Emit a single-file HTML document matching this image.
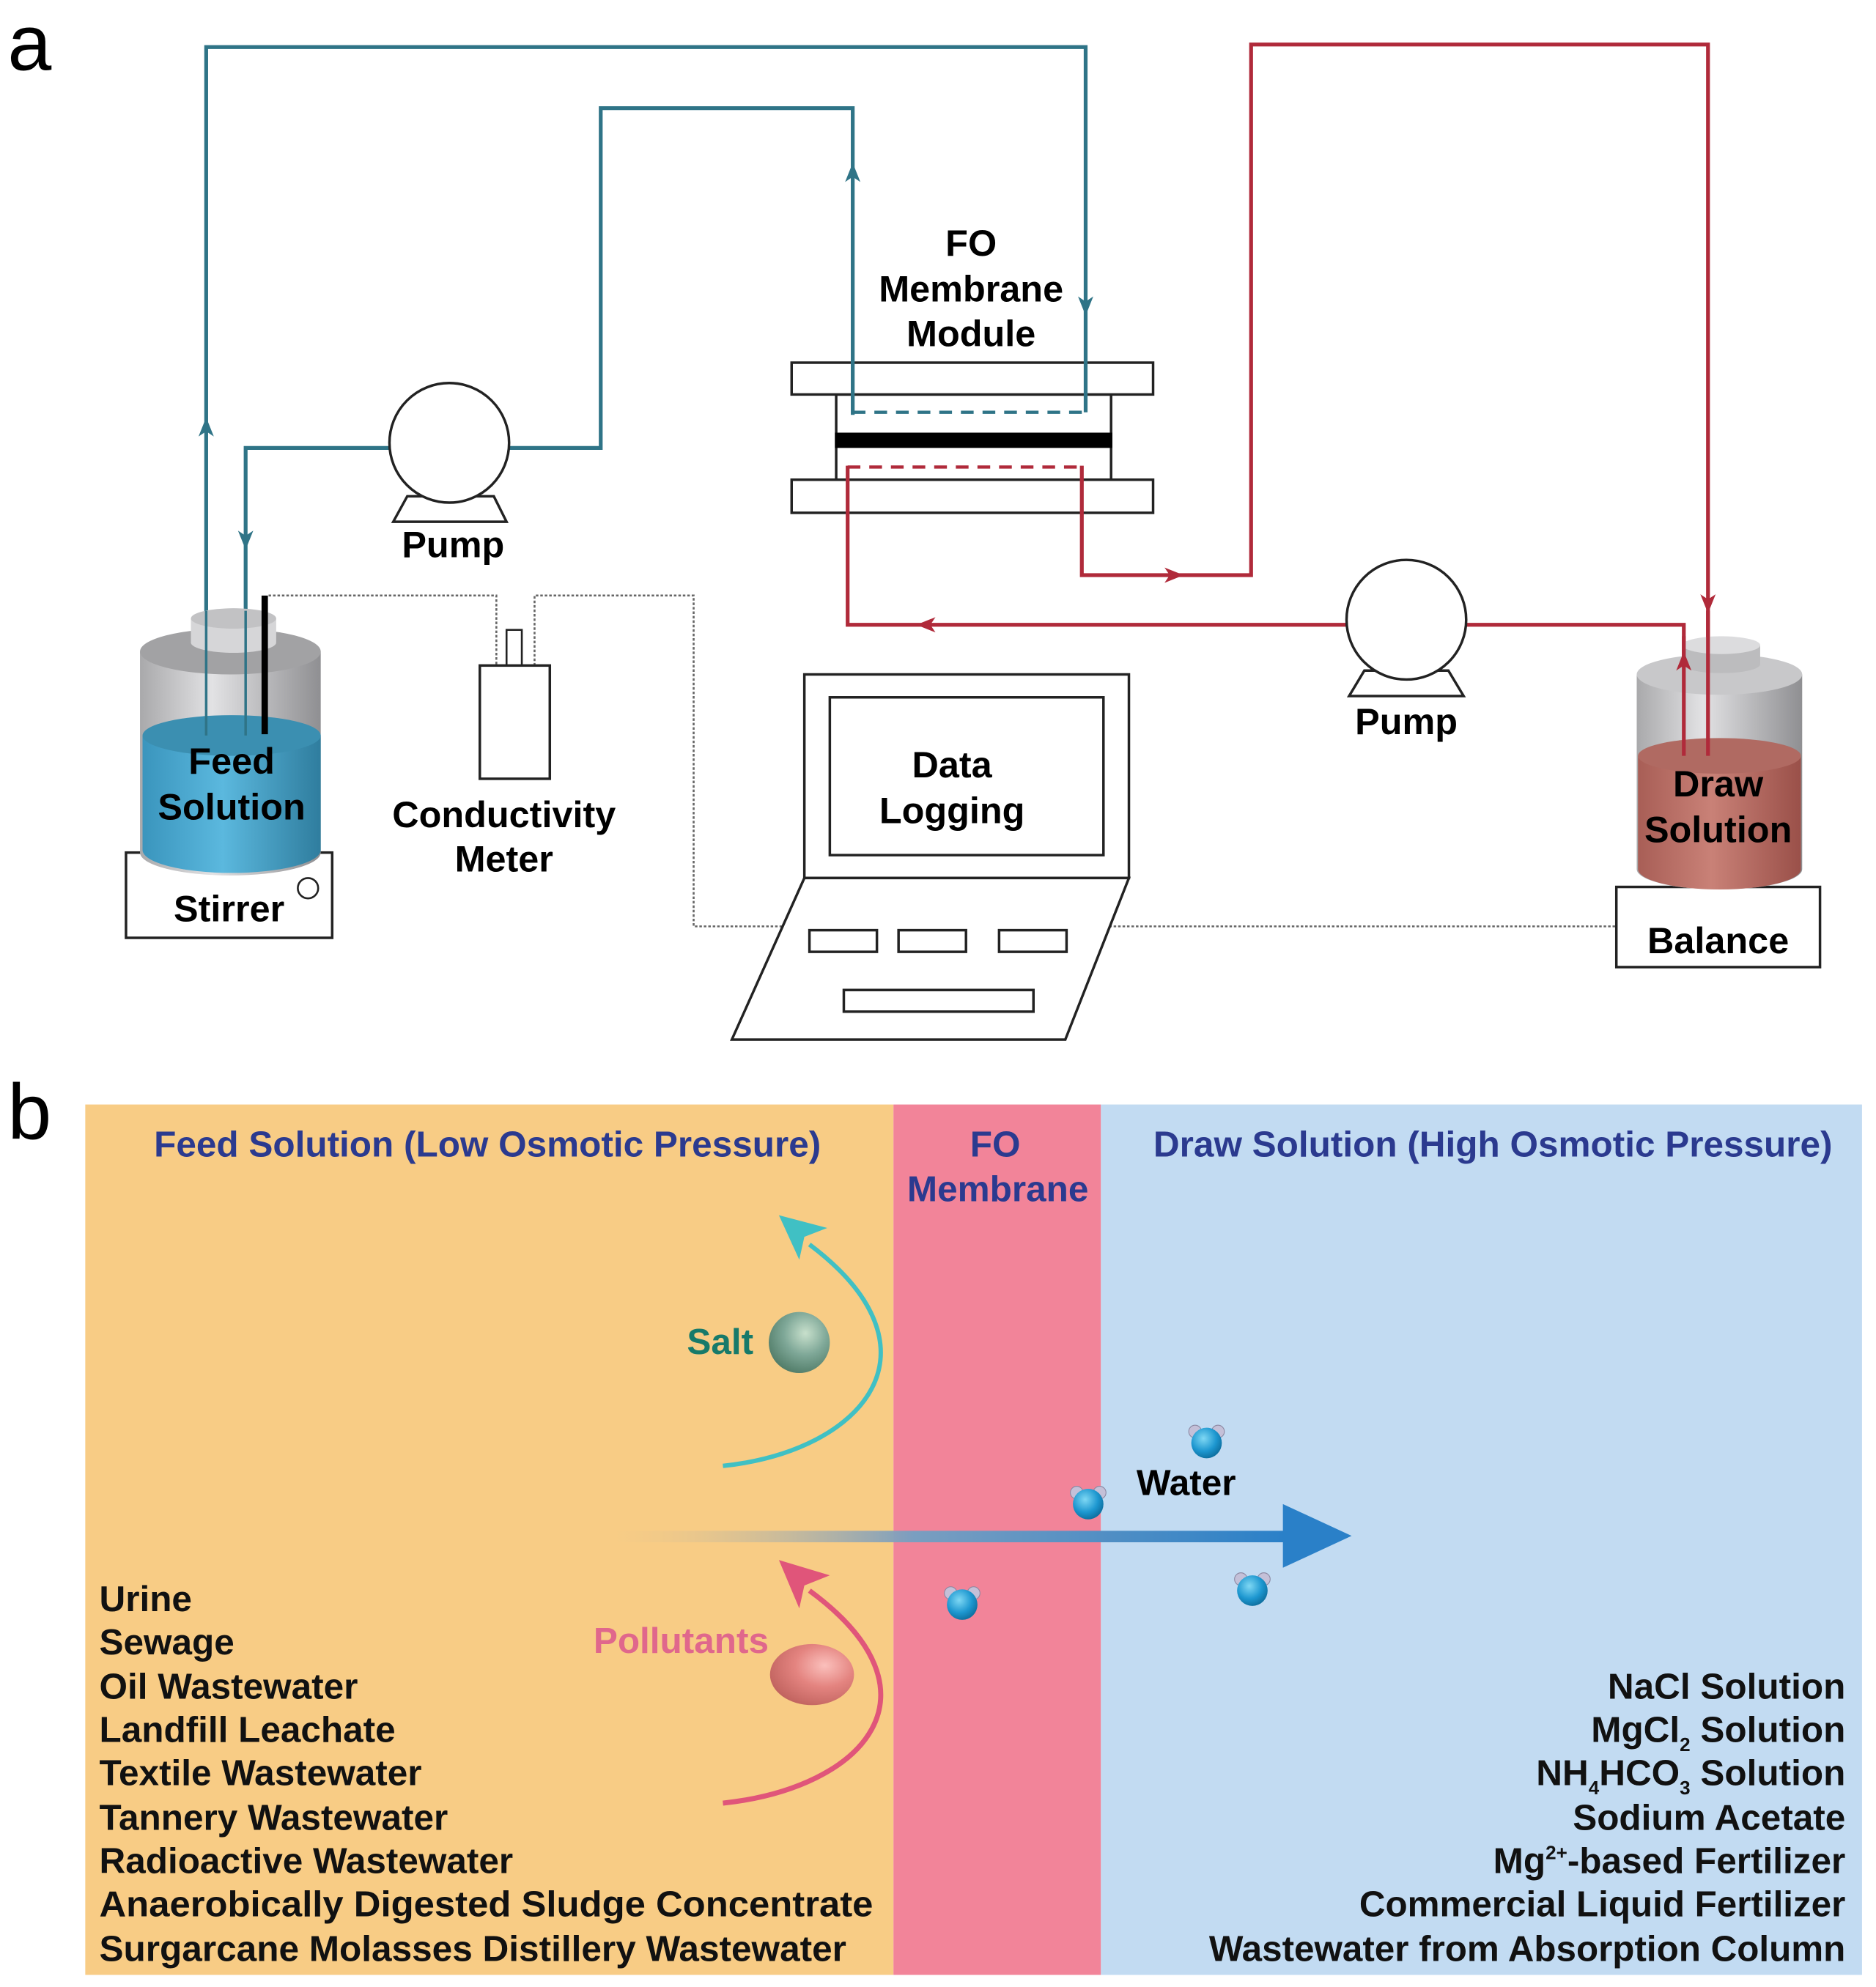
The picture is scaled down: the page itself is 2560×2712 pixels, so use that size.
<!DOCTYPE html>
<html><head><meta charset="utf-8"><style>
html,body{margin:0;padding:0;background:#fff}
svg{display:block}
text{font-family:"Liberation Sans",Arial,sans-serif;font-weight:bold}
</style></head><body>
<svg width="2560" height="2712" viewBox="0 0 1474 1561.5" preserveAspectRatio="none" xmlns="http://www.w3.org/2000/svg">
<defs>
<linearGradient id="feedL" x1="0" x2="1"><stop offset="0" stop-color="#3a95bd"/><stop offset="0.45" stop-color="#5bb8de"/><stop offset="1" stop-color="#2f7d9e"/></linearGradient>
<linearGradient id="glass" x1="0" x2="1"><stop offset="0" stop-color="#a9a9ab"/><stop offset="0.4" stop-color="#e2e2e4"/><stop offset="1" stop-color="#8f8f92"/></linearGradient>
<linearGradient id="drawL" x1="0" x2="1"><stop offset="0" stop-color="#a85e56"/><stop offset="0.45" stop-color="#c98177"/><stop offset="1" stop-color="#9a5049"/></linearGradient>
<linearGradient id="wArrow" x1="480" x2="1010" gradientUnits="userSpaceOnUse"><stop offset="0" stop-color="#f8cc85" stop-opacity="0.2"/><stop offset="0.45" stop-color="#7a9ec0"/><stop offset="1" stop-color="#2a80c8"/></linearGradient>
<radialGradient id="salt" cx="0.6" cy="0.35" r="0.7"><stop offset="0" stop-color="#c8e0cc"/><stop offset="0.5" stop-color="#7fa898"/><stop offset="1" stop-color="#4f7a66"/></radialGradient>
<radialGradient id="poll" cx="0.65" cy="0.35" r="0.7"><stop offset="0" stop-color="#fbc0bc"/><stop offset="0.5" stop-color="#e48480"/><stop offset="1" stop-color="#c26460"/></radialGradient>
<radialGradient id="wat" cx="0.4" cy="0.35" r="0.7"><stop offset="0" stop-color="#7fd8f4"/><stop offset="0.6" stop-color="#1d97d0"/><stop offset="1" stop-color="#0c6b9a"/></radialGradient>
<g id="mol"><circle cx="-9" cy="-9" r="5" fill="#c4c0d8" stroke="#8a86a0" stroke-width="0.6"/><circle cx="9" cy="-9" r="5" fill="#c4c0d8" stroke="#8a86a0" stroke-width="0.6"/><circle cx="0" cy="0" r="12" fill="url(#wat)"/></g>
</defs>

<!-- Part a -->
<text x="6" y="55" font-size="62" style="font-weight:normal">a</text>

<!-- membrane module (drawn first so pipes go over) -->
<g fill="#fff" stroke="#222" stroke-width="2">
<rect x="657" y="310" width="216" height="67"/>
<rect x="622" y="285" width="284" height="25"/>
<rect x="622" y="377" width="284" height="26"/>
</g>
<rect x="656" y="340" width="218" height="12" fill="#000"/>

<!-- teal pipes -->
<g fill="none" stroke="#2f7487" stroke-width="3">
<polyline points="162,565 162,37 853,37 853,324"/>
<polyline points="193,565 193,352 306,352"/>
<polyline points="399,352 472,352 472,85 670,85 670,326"/>
<line x1="670" y1="324" x2="853" y2="324" stroke-dasharray="10,7" stroke-width="2.5"/>
</g>
<g fill="#2f7487">
<path d="M162,328 l-6,15 l6,-4 l6,4z"/>
<path d="M670,128 l-6,15 l6,-4 l6,4z"/>
<path d="M853,248 l-6,-15 l6,4 l6,-4z"/>
<path d="M193,432 l-6,-15 l6,4 l6,-4z"/>
</g>

<!-- red pipes -->
<g fill="none" stroke="#b02a3a" stroke-width="3">
<polyline points="850,366 850,452 983,452 983,35 1342,35 1342,590"/>
<polyline points="666,366 666,491 1059,491"/>
<polyline points="1151,491 1323,491 1323,590"/>
<line x1="666" y1="367" x2="850" y2="367" stroke-dasharray="10,7" stroke-width="2.5"/>
</g>
<g fill="#b02a3a">
<path d="M930,452 l-15,-6 l4,6 l-4,6z"/>
<path d="M720,491 l15,-6 l-4,6 l4,6z"/>
<path d="M1342,482 l-6,-15 l6,4 l6,-4z"/>
<path d="M1323,512 l-6,15 l6,-4 l6,4z"/>
</g>

<!-- pumps -->
<g fill="#fff" stroke="#222" stroke-width="2">
<path d="M320,390 L388,390 L398,410 L309,410 Z"/>
<circle cx="353" cy="348" r="47"/>
<path d="M1072,527 L1138,527 L1150,547 L1060,547 Z"/>
<circle cx="1105" cy="487" r="47"/>
</g>
<text x="356" y="438" font-size="29" text-anchor="middle">Pump</text>
<text x="1105" y="577" font-size="29" text-anchor="middle">Pump</text>

<text x="763" y="201" font-size="29" text-anchor="middle">FO</text>
<text x="763" y="237" font-size="29" text-anchor="middle">Membrane</text>
<text x="763" y="272" font-size="29" text-anchor="middle">Module</text>

<!-- dotted signal lines -->
<g fill="none" stroke="#666" stroke-width="1.5" stroke-dasharray="2,1.5">
<polyline points="211,468 390,468 390,523"/>
<polyline points="420,523 420,468 545,468 545,728 615,728"/>
<polyline points="868,728 1270,728"/>
</g>

<!-- feed tank -->
<rect x="99" y="670" width="162" height="67" fill="#fff" stroke="#222" stroke-width="2"/>
<circle cx="242" cy="698" r="8" fill="#fff" stroke="#222" stroke-width="1.5"/>
<text x="180" y="724" font-size="29" text-anchor="middle">Stirrer</text>
<path d="M110,512 L110,670 A71,18 0 0 0 252,670 L252,512 Z" fill="url(#glass)"/>
<ellipse cx="181" cy="512" rx="71" ry="18" fill="#a2a2a4"/>
<path d="M150,486 L150,505 A33.5,8 0 0 0 217,505 L217,486 Z" fill="#d6d6d8"/>
<ellipse cx="183.5" cy="486" rx="33.5" ry="8" fill="#c2c2c4"/>
<path d="M112,578 L112,668 A70,18 0 0 0 252,668 L252,578 Z" fill="url(#feedL)"/>
<ellipse cx="182" cy="578" rx="70" ry="16" fill="#3b8fb1"/>
<line x1="162" y1="480" x2="162" y2="578" stroke="#2f7487" stroke-width="2"/>
<line x1="193" y1="480" x2="193" y2="578" stroke="#2f7487" stroke-width="2"/>
<line x1="208" y1="468" x2="208" y2="577" stroke="#000" stroke-width="5"/>
<text x="182" y="608" font-size="29" text-anchor="middle">Feed</text>
<text x="182" y="644" font-size="29" text-anchor="middle">Solution</text>

<!-- conductivity meter -->
<rect x="398" y="495" width="12" height="28" fill="#fff" stroke="#222" stroke-width="1.5"/>
<rect x="377" y="523" width="55" height="89" fill="#fff" stroke="#222" stroke-width="2"/>
<text x="396" y="650" font-size="29" text-anchor="middle">Conductivity</text>
<text x="396" y="685" font-size="29" text-anchor="middle">Meter</text>

<!-- laptop -->
<g fill="#fff" stroke="#222" stroke-width="2">
<rect x="632" y="530" width="255" height="160"/>
<rect x="652" y="548" width="215" height="124"/>
<path d="M632,690 L887,690 L837,817 L575,817 Z"/>
<rect x="636" y="731" width="53" height="17"/>
<rect x="706" y="731" width="53" height="17"/>
<rect x="785" y="731" width="53" height="17"/>
<rect x="663" y="778" width="149" height="17"/>
</g>
<text x="748" y="611" font-size="29" text-anchor="middle">Data</text>
<text x="748" y="647" font-size="29" text-anchor="middle">Logging</text>

<!-- draw tank -->
<rect x="1270" y="697" width="160" height="63" fill="#fff" stroke="#222" stroke-width="2"/>
<text x="1350" y="749" font-size="29" text-anchor="middle">Balance</text>
<path d="M1286,530 L1286,683 A65,16 0 0 0 1416,683 L1416,530 Z" fill="url(#glass)"/>
<ellipse cx="1351" cy="530" rx="65" ry="16" fill="#c8c8ca"/>
<path d="M1322,507 L1322,522 A30.5,7 0 0 0 1383,522 L1383,507 Z" fill="#bcbcbe"/>
<ellipse cx="1352.5" cy="507" rx="30.5" ry="7" fill="#dcdcde"/>
<path d="M1287,594 L1287,683 A64,16 0 0 0 1415,683 L1415,594 Z" fill="url(#drawL)"/>
<ellipse cx="1351" cy="594" rx="64" ry="14" fill="#b06a62"/>
<line x1="1323" y1="500" x2="1323" y2="594" stroke="#b02a3a" stroke-width="3"/>
<line x1="1342" y1="480" x2="1342" y2="594" stroke="#b02a3a" stroke-width="3"/>
<path d="M1323,512 l-6,15 l6,-4 l6,4z" fill="#b02a3a"/>
<text x="1350" y="626" font-size="29" text-anchor="middle">Draw</text>
<text x="1350" y="662" font-size="29" text-anchor="middle">Solution</text>

<!-- Part b -->
<text x="6" y="895" font-size="62" style="font-weight:normal">b</text>
<rect x="67" y="868" width="635" height="684" fill="#f8cc85"/>
<rect x="702" y="868" width="163" height="684" fill="#f28499"/>
<rect x="865" y="868" width="598" height="684" fill="#c2dbf2"/>

<text x="383" y="909" font-size="28.5" text-anchor="middle" fill="#2b3a8f">Feed Solution (Low Osmotic Pressure)</text>
<text x="782" y="909" font-size="28.5" text-anchor="middle" fill="#2b3a8f">FO</text>
<text x="784" y="944" font-size="28.5" text-anchor="middle" fill="#2b3a8f">Membrane</text>
<text x="1173" y="909" font-size="28.5" text-anchor="middle" fill="#2b3a8f">Draw Solution (High Osmotic Pressure)</text>

<!-- salt arrow -->
<path d="M568,1152 C680,1140 745,1060 636,978" fill="none" stroke="#40c0c4" stroke-width="3.5"/>
<path d="M612,955 L650,965 L632,972 L628,990 Z" fill="#40c0c4"/>
<ellipse cx="628" cy="1055" rx="24" ry="24" fill="url(#salt)"/>
<text x="592" y="1064" font-size="28.5" text-anchor="end" fill="#177a6a">Salt</text>

<!-- pollutants arrow -->
<path d="M568,1417 C680,1405 745,1330 636,1250" fill="none" stroke="#e0557a" stroke-width="4"/>
<path d="M612,1226 L652,1238 L632,1246 L628,1264 Z" fill="#e0557a"/>
<ellipse cx="638" cy="1316" rx="33" ry="24" fill="url(#poll)"/>
<text x="604" y="1299" font-size="28.5" text-anchor="end" fill="#e0678c">Pollutants</text>

<!-- water arrow -->
<rect x="480" y="1203" width="532" height="9" fill="url(#wArrow)"/>
<path d="M1008,1182 L1062,1207 L1008,1232 Z" fill="#2a80c8"/>
<use href="#mol" x="948" y="1134"/>
<use href="#mol" x="855" y="1182"/>
<use href="#mol" x="756" y="1261"/>
<use href="#mol" x="984" y="1250"/>
<text x="932" y="1175" font-size="28.5" text-anchor="middle">Water</text>

<!-- left list -->
<g font-size="28.5" fill="#111">
<text x="78" y="1266">Urine</text>
<text x="78" y="1300">Sewage</text>
<text x="78" y="1335">Oil Wastewater</text>
<text x="78" y="1369">Landfill Leachate</text>
<text x="78" y="1403">Textile Wastewater</text>
<text x="78" y="1438">Tannery Wastewater</text>
<text x="78" y="1472">Radioactive Wastewater</text>
<text x="78" y="1506" textLength="608" lengthAdjust="spacingAndGlyphs">Anaerobically Digested Sludge Concentrate</text>
<text x="78" y="1541" textLength="587" lengthAdjust="spacingAndGlyphs">Surgarcane Molasses Distillery Wastewater</text>
</g>
<!-- right list -->
<g font-size="28.5" fill="#111" text-anchor="end">
<text x="1450" y="1335">NaCl Solution</text>
<text x="1450" y="1369">MgCl<tspan font-size="15" dy="7">2</tspan><tspan dy="-7"> Solution</tspan></text>
<text x="1450" y="1403">NH<tspan font-size="15" dy="7">4</tspan><tspan dy="-7">HCO</tspan><tspan font-size="15" dy="7">3</tspan><tspan dy="-7"> Solution</tspan></text>
<text x="1450" y="1438">Sodium Acetate</text>
<text x="1450" y="1472">Mg<tspan font-size="15" dy="-11">2+</tspan><tspan dy="11">-based Fertilizer</tspan></text>
<text x="1450" y="1506" textLength="382" lengthAdjust="spacingAndGlyphs">Commercial Liquid Fertilizer</text>
<text x="1450" y="1541" textLength="500" lengthAdjust="spacingAndGlyphs">Wastewater from Absorption Column</text>
</g>
</svg>
</body></html>
